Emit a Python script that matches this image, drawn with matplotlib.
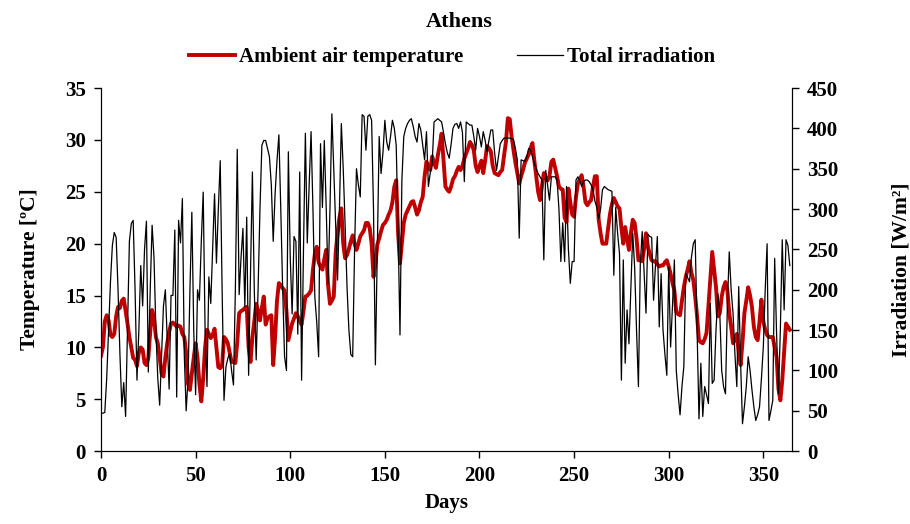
import numpy as np
import matplotlib
matplotlib.use("Agg")
import matplotlib.pyplot as plt

# Данные: суточные значения за год (Афины)
days = np.arange(365)

temperature = [
    9.2, 10.0, 12.5, 13.1, 12.6, 11.2, 11.0, 11.3, 13.0, 13.9,
    13.8, 14.5, 14.7, 13.5, 12.3, 11.0, 10.0, 9.0, 8.8, 8.2,
    9.5, 10.0, 9.8, 8.5, 8.3, 9.0, 11.5, 13.6, 12.8, 11.0,
    10.4, 9.0, 7.5, 7.2, 9.0, 10.4, 11.5, 12.3, 12.4, 12.2,
    12.0, 12.1, 12.0, 11.3, 11.0, 9.5, 6.5, 5.9, 7.5, 9.0,
    10.4, 9.0, 6.5, 4.8, 7.0, 10.0, 11.7, 11.3, 10.9, 11.2,
    11.8, 10.0, 8.1, 8.0, 8.3, 11.0, 10.8, 10.4, 9.5, 8.6,
    8.6, 8.5, 10.5, 13.3, 13.5, 13.6, 13.8, 13.9, 10.0, 8.6,
    11.0, 12.5, 14.2, 13.5, 12.6, 13.8, 14.9, 12.2, 12.8, 13.0,
    13.1, 8.3, 11.0, 14.5, 16.2, 16.0, 15.7, 15.5, 13.5, 10.7,
    11.5, 12.3, 12.8, 13.3, 13.0, 12.5, 12.2, 13.5, 14.9, 15.0,
    15.2, 15.5, 17.5, 19.0, 19.7, 18.2, 17.8, 17.5, 18.5, 19.4,
    16.0, 14.2, 14.5, 14.9, 19.1, 21.0, 22.5, 23.4, 20.0, 18.6,
    18.9, 19.5, 20.2, 20.8, 20.0, 19.4, 20.0, 20.7, 21.0, 21.3,
    22.0, 22.0, 21.5, 20.0, 16.8, 18.0, 19.9, 20.5, 21.2, 21.8,
    22.0, 22.3, 22.8, 23.2, 24.0, 25.5, 26.1, 21.0, 18.1, 20.0,
    22.0, 22.8, 23.2, 23.6, 24.0, 24.1, 23.5, 22.8, 23.2, 24.0,
    24.5, 26.5, 27.9, 27.3, 27.1, 28.4, 27.8, 27.3, 28.5, 29.5,
    30.6, 28.0, 25.5, 25.2, 25.0, 25.5, 26.2, 26.5, 27.0, 27.4,
    27.1, 27.5, 28.2, 28.7, 29.2, 29.8, 29.5, 29.0, 27.5, 26.9,
    27.5, 28.0, 26.8, 28.0, 29.4, 29.2, 28.9, 27.5, 26.8, 26.7,
    26.6, 26.9, 27.1, 28.5, 29.8, 32.1, 32.0, 30.3, 29.0, 27.8,
    26.8, 25.8, 26.5, 27.1, 27.8, 28.2, 28.6, 29.2, 29.7, 28.0,
    26.5, 25.0, 24.2, 25.5, 26.8, 26.4, 26.1, 26.5, 27.9, 28.1,
    27.3, 26.5, 25.5, 25.3, 25.2, 22.5, 22.1, 25.3, 24.0, 22.8,
    22.6, 24.5, 25.8, 26.2, 26.6, 25.5, 24.0, 23.7, 24.0, 24.2,
    25.5, 26.5, 26.5, 22.3, 21.0, 20.0, 20.0, 20.0, 21.5, 22.9,
    23.8, 24.4, 24.0, 23.6, 23.4, 21.5, 20.0, 21.6, 20.5, 19.4,
    21.0, 22.3, 22.0, 20.5, 18.4, 18.4, 18.3, 19.5, 21.0, 19.7,
    19.0, 18.4, 18.3, 18.3, 18.0, 17.8, 17.9, 17.9, 18.2, 18.4,
    17.8, 17.1, 16.2, 15.5, 13.4, 13.2, 13.1, 14.5, 15.8, 16.8,
    17.5, 18.3, 17.2, 16.5, 14.9, 13.0, 10.7, 10.5, 10.4, 10.8,
    11.4, 14.0, 16.5, 19.2, 17.5, 15.8, 13.0, 13.3, 14.9, 15.8,
    16.3, 15.5, 13.3, 12.0, 10.4, 10.8, 11.3, 9.5, 8.3, 10.5,
    13.3, 14.5, 15.8, 15.0, 13.9, 12.0, 11.0, 10.7, 12.5, 14.6,
    12.5, 11.7, 11.2, 11.0, 11.0, 11.0, 10.0, 9.1, 6.0, 4.9,
    6.8, 9.5, 12.3, 12.0, 11.7,
]

irradiation = [
    47, 47, 48, 90, 150, 210, 255, 271, 265, 200,
    120, 55, 85, 43, 150, 260, 282, 286, 200, 88,
    150, 230, 180, 250, 285, 98, 200, 280, 240, 150,
    90, 57, 120, 180, 200, 140, 77, 193, 193, 274,
    67, 286, 258, 313, 120, 50, 90, 200, 296, 150,
    70, 200, 187, 260, 321, 150, 80, 216, 183, 250,
    319, 233, 300, 360, 200, 63, 104, 115, 121, 100,
    82, 200, 374, 194, 240, 276, 179, 290, 94, 220,
    346, 200, 113, 200, 300, 379, 385, 385, 375, 365,
    330, 260, 319, 360, 392, 300, 200, 117, 100, 371,
    240, 170, 266, 260, 145, 346, 88, 250, 394, 258,
    330, 396, 300, 191, 160, 117, 381, 302, 385, 302,
    208, 300, 418, 350, 280, 212, 300, 406, 350, 280,
    204, 150, 120, 117, 250, 350, 330, 315, 417, 415,
    373, 415, 417, 410, 300, 107, 250, 390, 344, 370,
    410, 383, 373, 390, 410, 400, 379, 274, 144, 336,
    390, 400, 406, 410, 412, 402, 390, 383, 406, 398,
    380, 361, 396, 328, 345, 356, 408, 410, 412, 410,
    408, 395, 381, 370, 363, 380, 400, 405, 406, 400,
    408, 395, 334, 408, 406, 404, 404, 390, 373, 400,
    390, 377, 396, 385, 371, 385, 398, 398, 370, 348,
    365, 381, 385, 388, 388, 388, 388, 387, 386, 375,
    361, 264, 361, 360, 359, 365, 375, 373, 365, 357,
    350, 344, 340, 336, 237, 348, 330, 311, 340, 340,
    340, 336, 300, 235, 283, 235, 328, 250, 208, 235,
    235, 336, 340, 335, 328, 334, 336, 336, 334, 330,
    324, 310, 302, 288, 300, 324, 328, 326, 324, 323,
    322, 218, 302, 270, 245, 88, 237, 109, 175, 133,
    200, 270, 228, 150, 80, 233, 272, 220, 171, 269,
    266, 265, 187, 230, 266, 154, 220, 150, 120, 94,
    228, 129, 180, 237, 100, 70, 45, 80, 105, 220,
    215, 210, 240, 257, 262, 150, 40, 109, 43, 80,
    70, 59, 183, 84, 88, 150, 195, 171, 100, 80,
    71, 180, 247, 200, 171, 120, 80, 204, 109, 34,
    55, 80, 117, 100, 76, 55, 38, 45, 55, 90,
    129, 200, 257, 38, 50, 63, 239, 146, 71, 150,
    262, 175, 262, 255, 230,
]

plt.rcParams['font.family'] = ['Liberation Serif', 'DejaVu Serif']
plt.rcParams['font.weight'] = 'bold'

fig = plt.figure(figsize=(9.1, 5.24), dpi=100)
ax = fig.add_axes([0.111, 0.139, 0.759, 0.693])
ax2 = ax.twinx()

l1, = ax.plot(days, temperature, color='#C00000', lw=2.8, label='Ambient air temperature')
l2, = ax2.plot(days, irradiation, color='black', lw=0.9, label='Total irradiation')

ax.set_xlim(0, 365)
ax.set_ylim(0, 35)
ax2.set_ylim(0, 450)
ax.set_xticks(range(0, 351, 50))
ax.set_yticks(range(0, 36, 5))
ax2.set_yticks(range(0, 451, 50))

for a in (ax, ax2):
    a.spines['top'].set_visible(False)
    a.tick_params(direction='out', length=5, width=1, labelsize=15, pad=6)
    for lab in a.get_xticklabels() + a.get_yticklabels():
        lab.set_fontweight('bold')

ax.set_xlabel('Days', fontsize=15, fontweight='bold', labelpad=5)
ax.set_ylabel('Temperature [ºC]', fontsize=15.5, fontweight='bold', labelpad=18)
ax2.set_ylabel('Irradiation [W/m²]', fontsize=15.5, fontweight='bold', labelpad=38)

fig.text(0.505, 0.958, 'Athens', ha='center', va='center', fontsize=16, fontweight='bold')
fig.legend(handles=[l1, l2], loc='center', bbox_to_anchor=(0.497, 0.891), ncol=2,
           frameon=False, handlelength=2.2, handletextpad=0.2,
           columnspacing=2.6, prop={'weight': 'bold', 'size': 15})

fig.savefig('out.png', dpi=100)
